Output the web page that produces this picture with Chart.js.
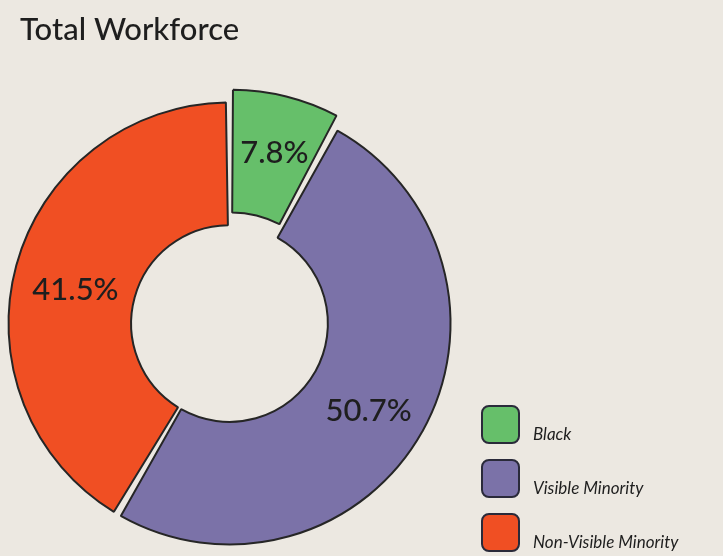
<!DOCTYPE html>
<html>
<head>
<meta charset="utf-8">
<script src="https://cdn.jsdelivr.net/npm/chart.js@4.4.1/dist/chart.umd.min.js"></script>
<style>
  html, body { margin: 0; padding: 0; background: #ece8e1; }
  #wrap { width: 723px; height: 556px; position: relative; }
</style>
</head>
<body>
<div id="wrap"><canvas id="c" width="723" height="556"></canvas></div>
<script>
const chartTitle = 'Total Workforce';
const categories = ['Black', 'Visible Minority', 'Non-Visible Minority'];
const shares = [7.8, 50.7, 41.5];
const sliceColors = ['#66bf6a', '#7b72a8', '#f04f23'];
const sliceOffsets = [34, 0, 0];

const FONT = "Lato, 'Open Sans', 'DejaVu Sans', sans-serif";
const INK = '#1e1e1e';

const bgPlugin = {
  id: 'paper',
  beforeDraw(chart) {
    const ctx = chart.ctx;
    ctx.save();
    ctx.fillStyle = '#ece8e1';
    ctx.fillRect(0, 0, chart.width, chart.height);
    ctx.restore();
  }
};

const decorPlugin = {
  id: 'decor',
  afterDatasetsDraw(chart) {
    const ctx = chart.ctx;
    const meta = chart.getDatasetMeta(0);
    ctx.save();
    ctx.fillStyle = INK;
    ctx.textAlign = 'center';
    ctx.textBaseline = 'middle';
    ctx.font = '500 31px ' + FONT;
    meta.data.forEach((arc, i) => {
      const p = arc.tooltipPosition();
      const mid = (arc.startAngle + arc.endAngle) / 2;
      const off = (arc.options.offset || 0) / 4;
      const x = p.x + Math.cos(mid) * off;
      const y = p.y + Math.sin(mid) * off;
      ctx.fillText(chart.data.datasets[0].data[i].toFixed(1) + '%', x, y + 9);
    });
    ctx.restore();
  },
  afterDraw(chart) {
    const ctx = chart.ctx;
    ctx.save();
    // title
    ctx.fillStyle = INK;
    ctx.textAlign = 'left';
    ctx.textBaseline = 'alphabetic';
    ctx.font = '500 31px ' + FONT;
    ctx.fillText(chartTitle, 20, 40);
    // legend
    const ds = chart.data.datasets[0];
    const boxX = 482, box = 37, startY = 406, step = 54;
    chart.data.labels.forEach((lab, i) => {
      const y = startY + i * step;
      ctx.beginPath();
      ctx.roundRect(boxX, y, box, box, 7);
      ctx.fillStyle = ds.backgroundColor[i];
      ctx.fill();
      ctx.lineWidth = 2;
      ctx.strokeStyle = '#2a2a3a';
      ctx.stroke();
      ctx.fillStyle = INK;
      ctx.font = 'italic 17px ' + FONT;
      ctx.textBaseline = 'middle';
      ctx.fillText(lab, 533, y + 29);
    });
    ctx.restore();
  }
};

new Chart(document.getElementById('c'), {
  type: 'doughnut',
  data: {
    labels: categories,
    datasets: [{
      data: shares,
      backgroundColor: sliceColors,
      borderColor: '#262626',
      borderWidth: 2,
      offset: sliceOffsets,
      spacing: 4
    }]
  },
  options: {
    responsive: false,
    animation: false,
    radius: 219,
    cutout: '44%',
    rotation: 0,
    layout: { padding: { top: 91, left: 0, right: 264, bottom: 0 } },
    plugins: {
      legend: { display: false },
      title: { display: false },
      tooltip: { enabled: false }
    }
  },
  plugins: [bgPlugin, decorPlugin]
});
</script>
</body>
</html>
